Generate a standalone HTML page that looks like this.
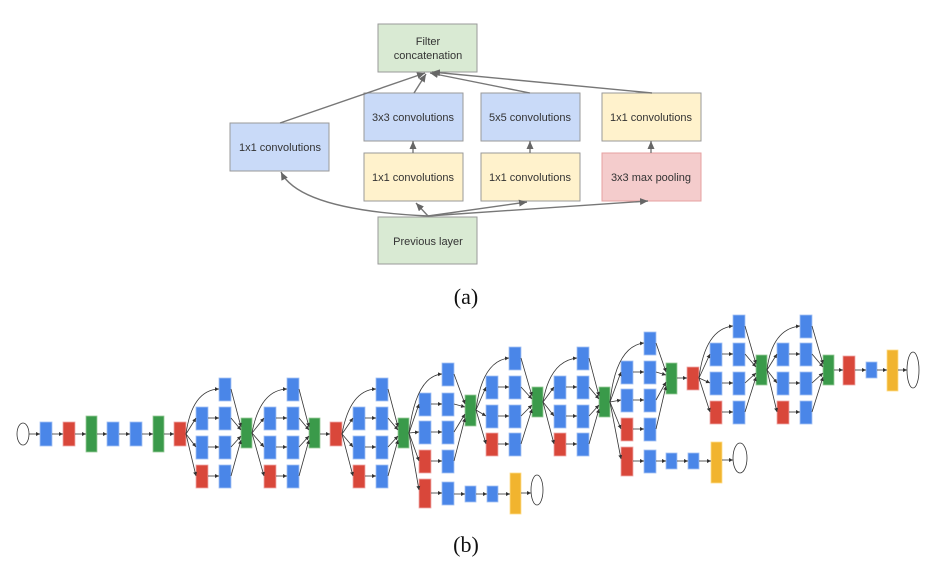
<!DOCTYPE html>
<html><head><meta charset="utf-8"><style>
html,body{margin:0;padding:0;background:#fff;width:931px;height:570px;overflow:hidden}
svg{display:block}
.a text{font-family:"Liberation Sans",sans-serif;font-size:11px;fill:#333;text-anchor:middle}
.b{fill:#4a86e8;stroke:#a4c2f4;stroke-width:0.8}
.r{fill:#d9473a;stroke:#eaa;stroke-width:0.8}
.g{fill:#3a9a4a;stroke:#9c9;stroke-width:0.8}
.y{fill:#f1b42f;stroke:#fd8;stroke-width:0.8}
.e path{fill:none;stroke:#333;stroke-width:0.8;marker-end:url(#m)}
.ae path{fill:none;stroke:#777;stroke-width:1.4;marker-end:url(#ma)}
</style></head><body>
<svg width="931" height="570" viewBox="0 0 931 570">
<defs>
<marker id="m" markerWidth="4" markerHeight="4" refX="4" refY="2" orient="auto" markerUnits="userSpaceOnUse"><path d="M0,0 L4,2 L0,4z" fill="#333"/></marker>
<marker id="ma" markerWidth="8" markerHeight="7" refX="8" refY="3.5" orient="auto" markerUnits="userSpaceOnUse"><path d="M0,0 L8,3.5 L0,7z" fill="#666"/></marker>
</defs>
<!-- (a) -->
<g class="a">
<rect x="378" y="24" width="99" height="48" fill="#d9ead3" stroke="#999"/>
<text x="428" y="45">Filter</text><text x="428" y="59">concatenation</text>
<rect x="364" y="93" width="99" height="48" fill="#c9daf8" stroke="#999"/>
<text x="413" y="121">3x3 convolutions</text>
<rect x="481" y="93" width="99" height="48" fill="#c9daf8" stroke="#999"/>
<text x="530" y="121">5x5 convolutions</text>
<rect x="602" y="93" width="99" height="48" fill="#fff2cc" stroke="#999"/>
<text x="651" y="121">1x1 convolutions</text>
<rect x="230" y="123" width="99" height="48" fill="#c9daf8" stroke="#999"/>
<text x="280" y="151">1x1 convolutions</text>
<rect x="364" y="153" width="99" height="48" fill="#fff2cc" stroke="#999"/>
<text x="413" y="181">1x1 convolutions</text>
<rect x="481" y="153" width="99" height="48" fill="#fff2cc" stroke="#999"/>
<text x="530" y="181">1x1 convolutions</text>
<rect x="602" y="153" width="99" height="48" fill="#f4cccc" stroke="#e6a0a0"/>
<text x="651" y="181">3x3 max pooling</text>
<rect x="378" y="217" width="99" height="47" fill="#d9ead3" stroke="#999"/>
<text x="428" y="245">Previous layer</text>
</g>
<g class="ae">
<path d="M280,123 L425,73"/>
<path d="M414,93 L426,74"/>
<path d="M530,93 L430,73"/>
<path d="M652,93 L432,72"/>
<path d="M413,153 L413,141"/>
<path d="M530,153 L530,141"/>
<path d="M651,153 L651,141"/>
<path d="M428,216 Q300,210 281,172"/>
<path d="M428,216 L416,203"/>
<path d="M428,216 L527,202"/>
<path d="M428,216 L648,201"/>
</g>
<text x="466" y="304" font-family="Liberation Serif,serif" font-size="22" text-anchor="middle" fill="#111">(a)</text>
<text x="466" y="552" font-family="Liberation Serif,serif" font-size="22" text-anchor="middle" fill="#111">(b)</text>
<!-- (b) -->
<g>
<ellipse cx="23" cy="434" rx="6" ry="11" fill="#fff" stroke="#333" stroke-width="0.8"/>
<rect class="b" x="40" y="422" width="12" height="24"/>
<rect class="r" x="63" y="422" width="12" height="24"/>
<rect class="g" x="86" y="416" width="11" height="36"/>
<rect class="b" x="107" y="422" width="12" height="24"/>
<rect class="b" x="130" y="422" width="12" height="24"/>
<rect class="g" x="153" y="416" width="11" height="36"/>
<rect class="r" x="174" y="422" width="12" height="24"/>
<!-- 3a -->
<rect class="b" x="219" y="378" width="12" height="23"/><rect class="b" x="196" y="407" width="12" height="23"/><rect class="b" x="219" y="407" width="12" height="23"/><rect class="b" x="196" y="436" width="12" height="23"/><rect class="b" x="219" y="436" width="12" height="23"/><rect class="r" x="196" y="465" width="12" height="23"/><rect class="b" x="219" y="465" width="12" height="23"/><rect class="g" x="241" y="418" width="11" height="30"/>
<!-- 3b -->
<rect class="b" x="287" y="378" width="12" height="23"/><rect class="b" x="264" y="407" width="12" height="23"/><rect class="b" x="287" y="407" width="12" height="23"/><rect class="b" x="264" y="436" width="12" height="23"/><rect class="b" x="287" y="436" width="12" height="23"/><rect class="r" x="264" y="465" width="12" height="23"/><rect class="b" x="287" y="465" width="12" height="23"/><rect class="g" x="309" y="418" width="11" height="30"/>
<rect class="r" x="330" y="422" width="12" height="24"/>
<!-- 4a -->
<rect class="b" x="376" y="378" width="12" height="23"/><rect class="b" x="353" y="407" width="12" height="23"/><rect class="b" x="376" y="407" width="12" height="23"/><rect class="b" x="353" y="436" width="12" height="23"/><rect class="b" x="376" y="436" width="12" height="23"/><rect class="r" x="353" y="465" width="12" height="23"/><rect class="b" x="376" y="465" width="12" height="23"/><rect class="g" x="398" y="418" width="11" height="30"/>
<!-- 4b -->
<rect class="b" x="442" y="363" width="12" height="23"/><rect class="b" x="419" y="393" width="12" height="23"/><rect class="b" x="442" y="393" width="12" height="23"/><rect class="b" x="419" y="421" width="12" height="23"/><rect class="b" x="442" y="421" width="12" height="23"/><rect class="r" x="419" y="450" width="12" height="23"/><rect class="b" x="442" y="450" width="12" height="23"/><rect class="g" x="465" y="395" width="11" height="31"/>
<rect class="r" x="419" y="479" width="12" height="29"/><rect class="b" x="442" y="482" width="12" height="23"/><rect class="b" x="465" y="486" width="11" height="16"/><rect class="b" x="487" y="486" width="11" height="16"/><rect class="y" x="510" y="473" width="11" height="41"/>
<ellipse cx="537" cy="490" rx="6" ry="15" fill="#fff" stroke="#333" stroke-width="0.8"/>
<!-- 4c -->
<rect class="b" x="509" y="347" width="12" height="23"/><rect class="b" x="486" y="376" width="12" height="23"/><rect class="b" x="509" y="376" width="12" height="23"/><rect class="b" x="486" y="405" width="12" height="23"/><rect class="b" x="509" y="405" width="12" height="23"/><rect class="r" x="486" y="433" width="12" height="23"/><rect class="b" x="509" y="433" width="12" height="23"/><rect class="g" x="532" y="387" width="11" height="30"/>
<!-- 4d -->
<rect class="b" x="577" y="347" width="12" height="23"/><rect class="b" x="554" y="376" width="12" height="23"/><rect class="b" x="577" y="376" width="12" height="23"/><rect class="b" x="554" y="405" width="12" height="23"/><rect class="b" x="577" y="405" width="12" height="23"/><rect class="r" x="554" y="433" width="12" height="23"/><rect class="b" x="577" y="433" width="12" height="23"/><rect class="g" x="599" y="387" width="11" height="30"/>
<!-- 4e -->
<rect class="b" x="644" y="332" width="12" height="23"/><rect class="b" x="621" y="361" width="12" height="23"/><rect class="b" x="644" y="361" width="12" height="23"/><rect class="b" x="621" y="389" width="12" height="23"/><rect class="b" x="644" y="389" width="12" height="23"/><rect class="r" x="621" y="418" width="12" height="23"/><rect class="b" x="644" y="418" width="12" height="23"/><rect class="g" x="666" y="363" width="11" height="31"/>
<rect class="r" x="621" y="447" width="12" height="29"/><rect class="b" x="644" y="450" width="12" height="23"/><rect class="b" x="666" y="453" width="11" height="16"/><rect class="b" x="688" y="453" width="11" height="16"/><rect class="y" x="711" y="442" width="11" height="41"/>
<ellipse cx="740" cy="458" rx="7" ry="15" fill="#fff" stroke="#333" stroke-width="0.8"/>
<rect class="r" x="687" y="367" width="12" height="23"/>
<!-- 5a -->
<rect class="b" x="733" y="315" width="12" height="23"/><rect class="b" x="710" y="343" width="12" height="23"/><rect class="b" x="733" y="343" width="12" height="23"/><rect class="b" x="710" y="372" width="12" height="23"/><rect class="b" x="733" y="372" width="12" height="23"/><rect class="r" x="710" y="401" width="12" height="23"/><rect class="b" x="733" y="401" width="12" height="23"/><rect class="g" x="756" y="355" width="11" height="30"/>
<!-- 5b -->
<rect class="b" x="800" y="315" width="12" height="23"/><rect class="b" x="777" y="343" width="12" height="23"/><rect class="b" x="800" y="343" width="12" height="23"/><rect class="b" x="777" y="372" width="12" height="23"/><rect class="b" x="800" y="372" width="12" height="23"/><rect class="r" x="777" y="401" width="12" height="23"/><rect class="b" x="800" y="401" width="12" height="23"/><rect class="g" x="823" y="355" width="11" height="30"/>
<rect class="r" x="843" y="356" width="12" height="29"/><rect class="b" x="866" y="362" width="11" height="16"/><rect class="y" x="887" y="350" width="11" height="41"/>
<ellipse cx="913" cy="370" rx="6" ry="18" fill="#fff" stroke="#333" stroke-width="0.8"/>
</g>
<g class="e">
<path d="M29,434H40"/><path d="M52,434H63"/><path d="M75,434H86"/><path d="M97,434H107"/><path d="M119,434H130"/><path d="M142,434H153"/><path d="M164,434H174"/>
<!-- 3a -->
<path d="M186,434Q192,390 219,389"/><path d="M186,434L196,418"/><path d="M186,434L196,447"/><path d="M186,434L196,476"/>
<path d="M208,418H219"/><path d="M208,447H219"/><path d="M208,476H219"/>
<path d="M231,389L241,427"/><path d="M231,418L241,430"/><path d="M231,447L241,436"/><path d="M231,476L241,440"/>
<!-- 3b -->
<path d="M252,433Q260,390 287,389"/><path d="M252,433L264,418"/><path d="M252,433L264,447"/><path d="M252,433L264,476"/>
<path d="M276,418H287"/><path d="M276,447H287"/><path d="M276,476H287"/>
<path d="M299,389L309,427"/><path d="M299,418L309,430"/><path d="M299,447L309,436"/><path d="M299,476L309,440"/>
<path d="M320,434H330"/>
<!-- 4a -->
<path d="M342,434Q350,390 376,389"/><path d="M342,434L353,418"/><path d="M342,434L353,447"/><path d="M342,434L353,476"/>
<path d="M365,418H376"/><path d="M365,447H376"/><path d="M365,476H376"/>
<path d="M388,389L398,427"/><path d="M388,418L398,430"/><path d="M388,447L398,436"/><path d="M388,476L398,440"/>
<!-- 4b -->
<path d="M409,433Q416,376 442,374"/><path d="M409,433L419,404"/><path d="M409,433L419,432"/><path d="M409,433L419,461"/><path d="M409,433L419,490"/>
<path d="M431,404H442"/><path d="M431,432H442"/><path d="M431,461H442"/>
<path d="M454,374L465,404"/><path d="M454,404L465,407"/><path d="M454,432L465,414"/><path d="M454,461L465,418"/>
<path d="M431,493H442"/><path d="M454,494H465"/><path d="M476,494H487"/><path d="M498,494H510"/><path d="M521,493H531"/>
<!-- 4c -->
<path d="M476,410Q482,361 509,358"/><path d="M476,410L486,387"/><path d="M476,410L486,416"/><path d="M476,410L486,444"/>
<path d="M498,387H509"/><path d="M498,416H509"/><path d="M498,444H509"/>
<path d="M521,358L532,396"/><path d="M521,387L532,399"/><path d="M521,416L532,405"/><path d="M521,444L532,409"/>
<!-- 4d -->
<path d="M543,402Q550,361 577,358"/><path d="M543,402L554,387"/><path d="M543,402L554,416"/><path d="M543,402L554,444"/>
<path d="M566,387H577"/><path d="M566,416H577"/><path d="M566,444H577"/>
<path d="M589,358L599,396"/><path d="M589,387L599,399"/><path d="M589,416L599,405"/><path d="M589,444L599,409"/>
<!-- 4e -->
<path d="M610,402Q616,346 644,343"/><path d="M610,402L621,372"/><path d="M610,402L621,400"/><path d="M610,402L621,429"/><path d="M610,402L621,459"/>
<path d="M633,372H644"/><path d="M633,400H644"/><path d="M633,429H644"/>
<path d="M656,343L666,372"/><path d="M656,372L666,375"/><path d="M656,400L666,382"/><path d="M656,429L666,386"/>
<path d="M633,461H644"/><path d="M656,461H666"/><path d="M677,461H688"/><path d="M699,461H711"/><path d="M722,460H733"/>
<path d="M677,378H687"/>
<!-- 5a -->
<path d="M699,378Q705,329 733,326"/><path d="M699,378L710,354"/><path d="M699,378L710,383"/><path d="M699,378L710,412"/>
<path d="M722,354H733"/><path d="M722,383H733"/><path d="M722,412H733"/>
<path d="M745,326L756,364"/><path d="M745,354L756,367"/><path d="M745,383L756,373"/><path d="M745,412L756,377"/>
<!-- 5b -->
<path d="M767,370Q772,329 800,326"/><path d="M767,370L777,354"/><path d="M767,370L777,383"/><path d="M767,370L777,412"/>
<path d="M789,354H800"/><path d="M789,383H800"/><path d="M789,412H800"/>
<path d="M812,326L823,364"/><path d="M812,354L823,367"/><path d="M812,383L823,373"/><path d="M812,412L823,377"/>
<path d="M834,370H843"/><path d="M855,370H866"/><path d="M877,370H887"/><path d="M898,370H907"/>
</g>
</svg>
</body></html>
